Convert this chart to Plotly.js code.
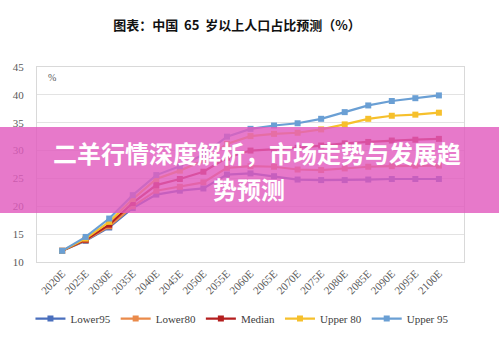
<!DOCTYPE html>
<html>
<head>
<meta charset="utf-8">
<script src="https://cdn.plot.ly/plotly-3.0.1.min.js"></script>
<style>html,body{margin:0;padding:0;background:#fff;}#chart{width:499px;height:342px;}</style>
</head>
<body>
<div id="chart"></div>
<script>
const categories = ["2020E","2025E","2030E","2035E","2040E","2045E","2050E","2055E","2060E","2065E","2070E","2075E","2080E","2085E","2090E","2095E","2100E"];
const lower95 = [12.0, 13.8, 16.2, 19.7, 22.1, 22.8, 23.2, 25.7, 25.9, 25.4, 24.8, 24.7, 24.7, 24.8, 24.9, 24.9, 24.9];
const lower80 = [12.0, 13.9, 16.4, 20.0, 22.8, 23.5, 24.3, 26.9, 27.2, 27.1, 26.6, 26.5, 26.8, 27.1, 27.2, 27.3, 27.3];
const median  = [12.0, 14.0, 16.7, 20.6, 23.8, 24.9, 26.2, 28.7, 30.0, 30.2, 30.5, 30.9, 31.3, 31.55, 31.8, 31.95, 32.1];
const upper80 = [12.0, 14.2, 17.2, 21.3, 24.9, 26.4, 28.2, 31.2, 32.6, 33.0, 33.2, 33.8, 34.7, 35.7, 36.25, 36.45, 36.8];
const upper95 = [12.0, 14.5, 17.8, 22.0, 25.6, 27.2, 29.3, 32.5, 33.9, 34.5, 34.9, 35.7, 36.9, 38.1, 38.9, 39.4, 39.9];
const seriesNames = ["Lower95", "Lower80", "Median", "Upper 80", "Upper 95"];
const seriesValues = [lower95, lower80, median, upper80, upper95];
const seriesColors = ["#4a6fbd", "#ea8a4a", "#b41e1e", "#f6c02c", "#6a9fd4"];
const titleText = "图表：中国  65  岁以上人口占比预测（%）";
const overlayLine1 = "二羊行情深度解析，市场走势与发展趋";
const overlayLine2 = "势预测";

const traces = seriesNames.map((name, i) => ({
  type: "scatter",
  mode: "lines+markers",
  name: name,
  x: categories,
  y: seriesValues[i],
  line: {color: seriesColors[i], width: 2.2},
  marker: {symbol: "square", size: 6, color: seriesColors[i]}
}));

const serif = "Liberation Serif, Times New Roman, serif";
const layout = {
  width: 499, height: 342,
  margin: {l: 37, r: 35, t: 67, b: 80, autoexpand: false},
  paper_bgcolor: "#ffffff",
  plot_bgcolor: "#ffffff",
  showlegend: true,
  title: {
    text: "<b>" + titleText + "</b>",
    font: {family: "Noto Sans CJK SC, sans-serif", size: 13, color: "#111111"},
    x: 0.475, xanchor: "center", y: 0.925, yanchor: "middle"
  },
  xaxis: {
    type: "category",
    tickangle: -45,
    tickfont: {family: serif, size: 11, color: "#595959"},
    showgrid: false,
    showline: true, linecolor: "#d9d9d9", linewidth: 1, mirror: true,
    ticks: "", fixedrange: true
  },
  yaxis: {
    range: [10, 45],
    tickvals: [10, 15, 20, 25, 30, 35, 40, 45],
    tickfont: {family: serif, size: 11, color: "#595959"},
    gridcolor: "#e3e3e3", gridwidth: 1,
    showline: true, linecolor: "#d9d9d9", linewidth: 1, mirror: true,
    zeroline: false, ticks: "", ticklabelstandoff: 10
  },
  legend: {
    orientation: "h", x: 0.48, xanchor: "center", y: -0.29, yanchor: "middle",
    font: {family: serif, size: 11, color: "#404040"},
    itemwidth: 30, tracegroupgap: 0
  },
  shapes: [{
    type: "rect", xref: "paper", yref: "paper", layer: "above",
    x0: -37/427, x1: 462/427, y0: (262-213)/195, y1: (262-127)/195,
    fillcolor: "rgb(226,92,190)", opacity: 0.82, line: {width: 0}
  }],
  annotations: [
    {xref: "paper", yref: "paper", x: 15/427, y: (262-77)/195, text: "%", showarrow: false,
     font: {family: serif, size: 10, color: "#595959"}, xanchor: "center", yanchor: "middle"},
    {xref: "paper", yref: "paper", x: (463-37)/427, y: (262-152)/195, text: "<b>" + overlayLine1 + "</b>", showarrow: false,
     font: {family: "Noto Sans CJK SC, sans-serif", size: 24, color: "#ffffff"}, xanchor: "right", yanchor: "middle"},
    {xref: "paper", yref: "paper", x: (249-37)/427, y: (262-188)/195, text: "<b>" + overlayLine2 + "</b>", showarrow: false,
     font: {family: "Noto Sans CJK SC, sans-serif", size: 24, color: "#ffffff"}, xanchor: "center", yanchor: "middle"}
  ]
};
Plotly.newPlot("chart", traces, layout, {displayModeBar: false, staticPlot: true});
</script>
</body>
</html>
